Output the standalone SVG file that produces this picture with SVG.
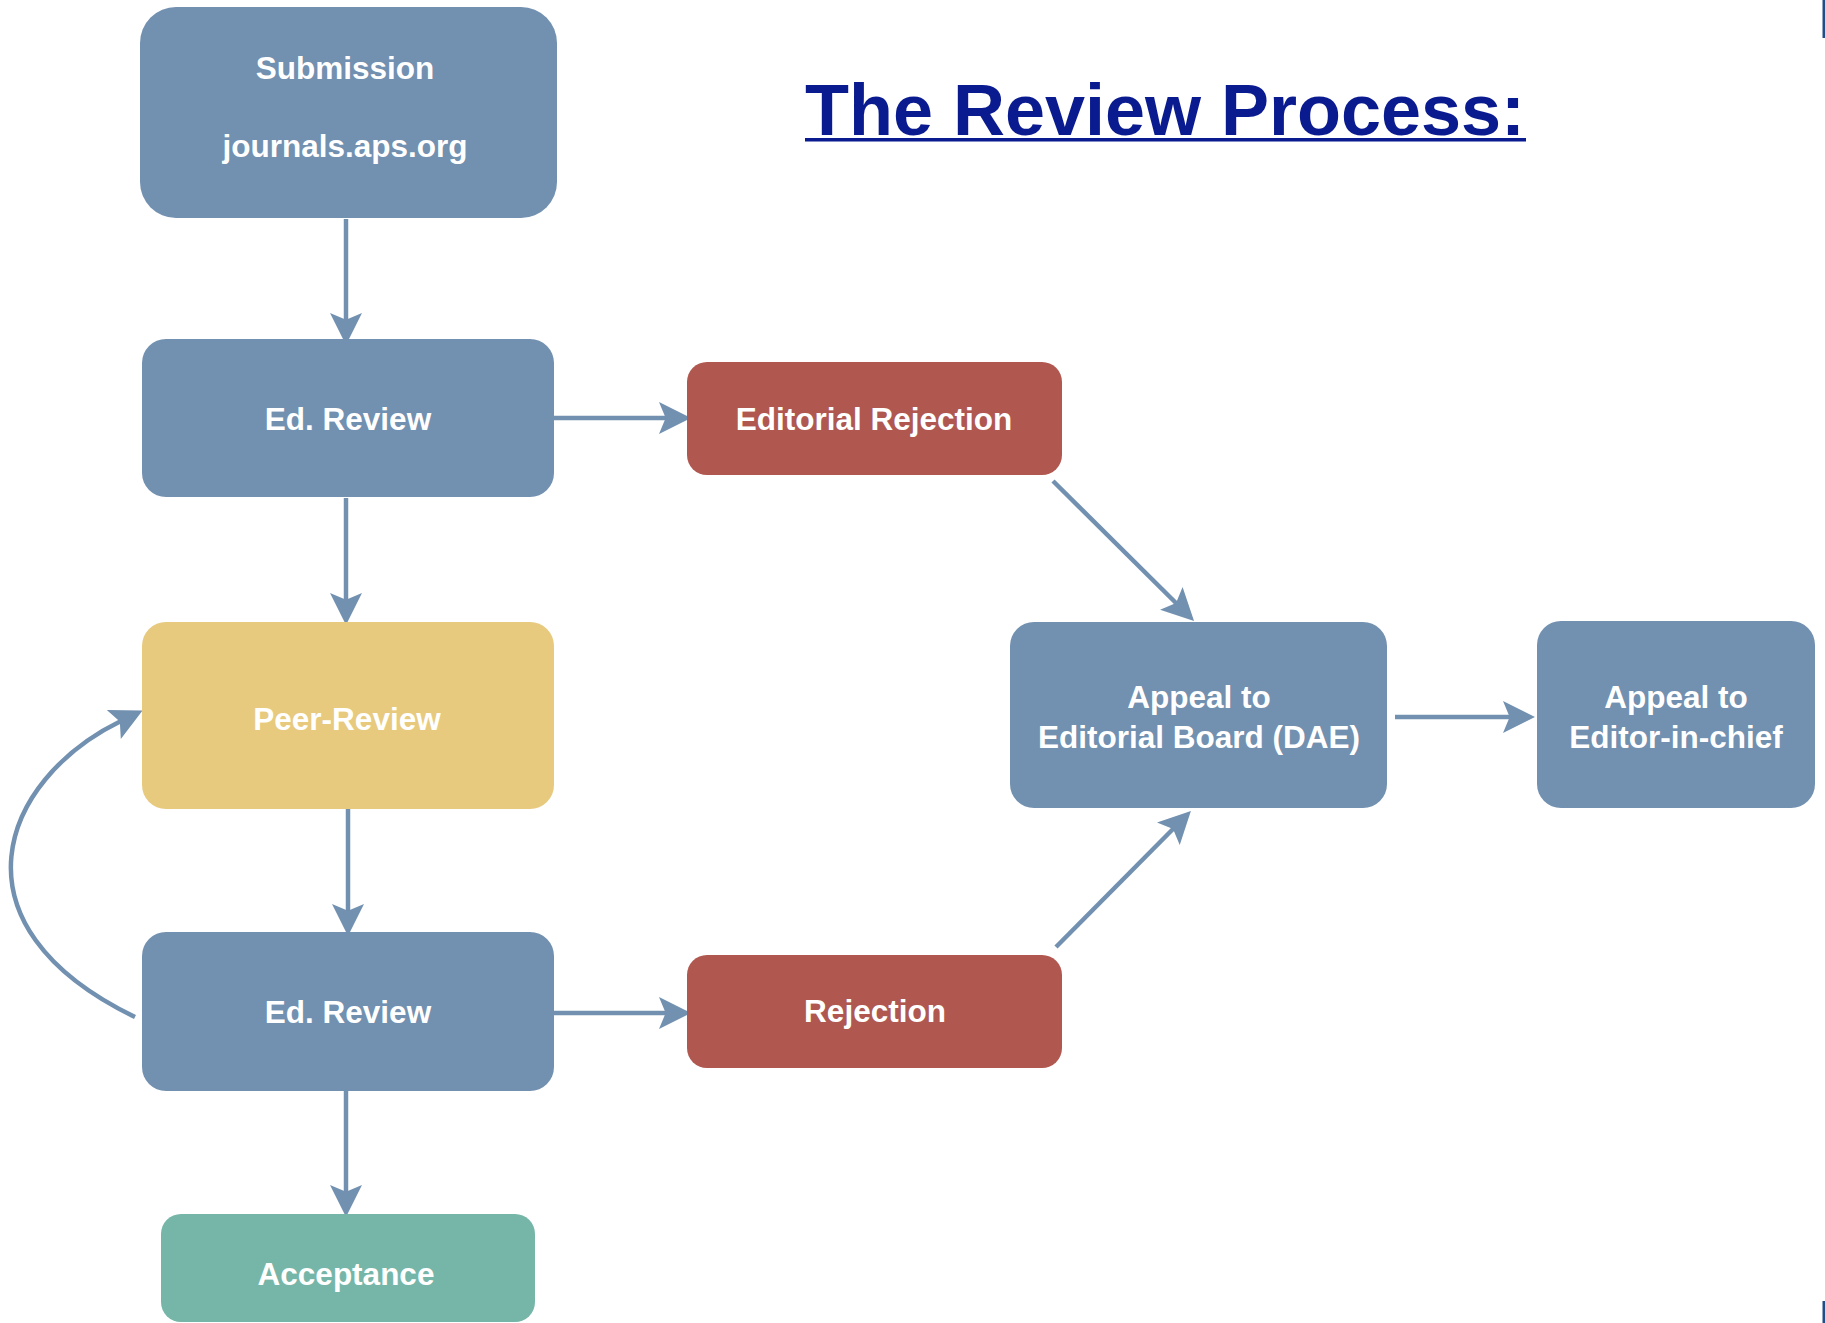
<svg xmlns="http://www.w3.org/2000/svg" width="1825" height="1323" viewBox="0 0 1825 1323">
<style>
.blue{fill:#7290B0}
.red{fill:#B0574F}
.yellow{fill:#E7CA7E}
.teal{fill:#76B6A8}
.lbl{font-family:"Liberation Sans",Arial,Helvetica,sans-serif;font-weight:bold;font-size:31.5px;fill:#ffffff;text-anchor:middle}
.conn{stroke:#7290B0;stroke-width:4.5;fill:none;marker-end:url(#ah)}
.title{font-family:"Liberation Sans",Arial,Helvetica,sans-serif;font-weight:bold;font-size:72px;fill:#0A1A8F}
</style>
<defs>
<marker id="ah" markerUnits="userSpaceOnUse" markerWidth="40" markerHeight="40" viewBox="-10 -15 30 30" refX="0" refY="0" orient="auto">
<path d="M18,0 L-6,-12 L-1,0 L-6,12 Z" fill="#7290B0"/>
</marker>
</defs>
<rect width="1825" height="1323" fill="#ffffff"/>
<g id="title">
<text class="title" x="805" y="135" textLength="720" lengthAdjust="spacingAndGlyphs">The Review Process:</text>
<rect x="805" y="138" width="721" height="3.5" fill="#0A1A8F"/>
</g>
<g id="edge-marks">
<rect x="1822.5" y="0" width="2.5" height="38" fill="#1F4F86"/>
<rect x="1822.5" y="1301" width="2.5" height="22" fill="#1F4F86"/>
</g>
<g id="connectors">
<line class="conn" x1="346" y1="219" x2="346" y2="321"/>
<line class="conn" x1="346" y1="498" x2="346" y2="601"/>
<line class="conn" x1="554" y1="418" x2="667" y2="418"/>
<line class="conn" x1="348" y1="809" x2="348" y2="912"/>
<line class="conn" x1="554" y1="1013" x2="667" y2="1013"/>
<line class="conn" x1="346" y1="1091" x2="346" y2="1193"/>
<line class="conn" x1="1053" y1="481" x2="1177" y2="604"/>
<line class="conn" x1="1056" y1="947" x2="1174" y2="828"/>
<line class="conn" x1="1395" y1="717" x2="1511" y2="717"/>
<path class="conn" d="M135,1017 C-55,925 0,780 121,721"/>
</g>
<g id="submission">
<rect class="blue" x="140" y="7" width="417" height="211" rx="36"/>
<text class="lbl" x="345" y="79">Submission</text>
<text class="lbl" x="345" y="157">journals.aps.org</text>
</g>
<g id="ed-review-1">
<rect class="blue" x="142" y="339" width="412" height="158" rx="24"/>
<text class="lbl" x="348" y="430">Ed. Review</text>
</g>
<g id="editorial-rejection">
<rect class="red" x="687" y="362" width="375" height="113" rx="20"/>
<text class="lbl" x="874" y="430">Editorial Rejection</text>
</g>
<g id="peer-review">
<rect class="yellow" x="142" y="622" width="412" height="187" rx="24"/>
<text class="lbl" x="347" y="730">Peer-Review</text>
</g>
<g id="ed-review-2">
<rect class="blue" x="142" y="932" width="412" height="159" rx="24"/>
<text class="lbl" x="348" y="1023">Ed. Review</text>
</g>
<g id="rejection">
<rect class="red" x="687" y="955" width="375" height="113" rx="20"/>
<text class="lbl" x="875" y="1022">Rejection</text>
</g>
<g id="acceptance">
<rect class="teal" x="161" y="1214" width="374" height="108" rx="20"/>
<text class="lbl" x="346" y="1285">Acceptance</text>
</g>
<g id="appeal-dae">
<rect class="blue" x="1010" y="622" width="377" height="186" rx="24"/>
<text class="lbl" x="1199" y="708">Appeal to</text>
<text class="lbl" x="1199" y="748">Editorial Board (DAE)</text>
</g>
<g id="appeal-eic">
<rect class="blue" x="1537" y="621" width="278" height="187" rx="24"/>
<text class="lbl" x="1676" y="708">Appeal to</text>
<text class="lbl" x="1676" y="748">Editor-in-chief</text>
</g>
</svg>
